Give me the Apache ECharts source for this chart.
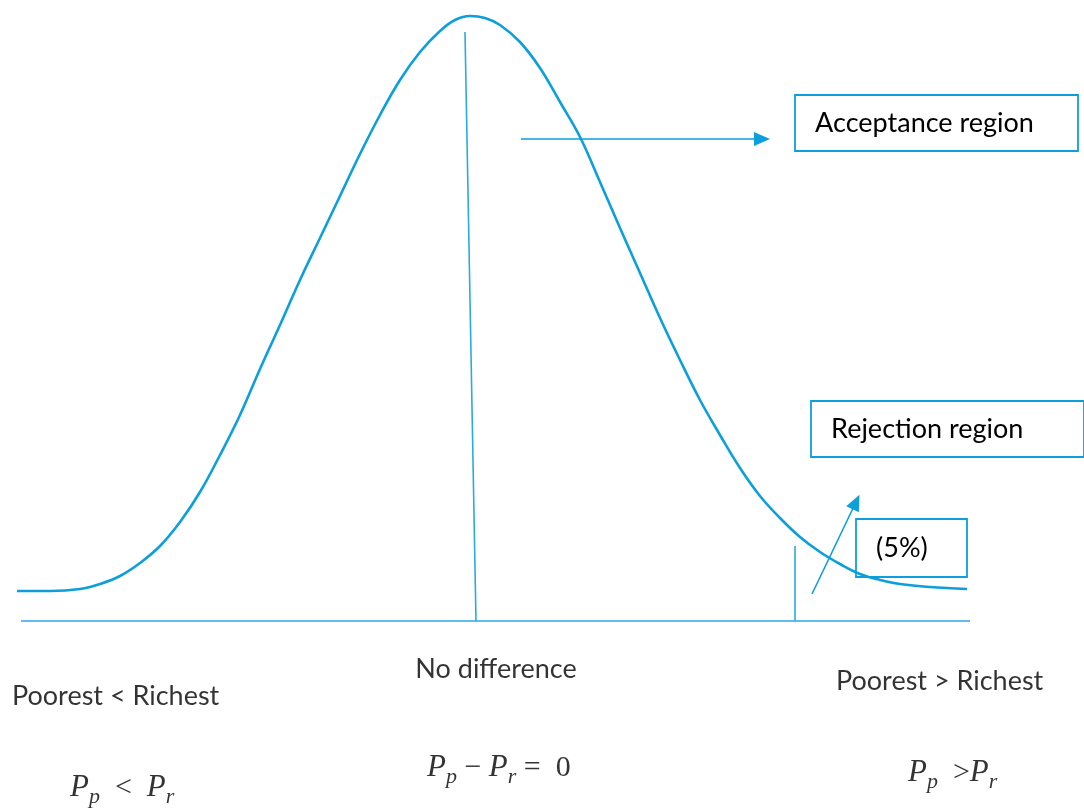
<!DOCTYPE html>
<html>
<head>
<meta charset="utf-8">
<style>
  html, body { margin: 0; padding: 0; background: #fff; }
  #chart { width: 1084px; height: 810px; }
</style>
<script src="https://cdn.jsdelivr.net/npm/echarts@6/dist/echarts.min.js"></script>
</head>
<body>
<div id="chart"></div>
<script>
// curve: x position, height above the base line
var curveX = [17, 50, 80, 100, 120, 140, 160, 180, 200, 220, 240, 260, 280, 300, 320, 340, 360, 380, 400, 420, 440, 455, 470, 485, 500, 520, 540, 560, 580, 600, 620, 640, 660, 680, 700, 720, 740, 760, 780, 800, 820, 840, 860, 880, 900, 930, 967];
var curveH = [30, 30, 32, 37, 45, 58, 75, 99, 129, 166, 206, 252, 296, 341, 383, 425, 467, 506, 541, 569, 590, 601, 605, 603, 596, 579, 553, 519, 484, 439, 393, 348, 303, 261, 221, 186, 153, 125, 103, 84, 69, 57, 47, 41, 37, 34, 32];

// plain lines: [x1, h1, x2, h2]
var baseLine = [21, 0, 970, 0];
var centerLine = [465, 589, 476, 0];
var cutLine = [795, 75, 795, 0];

// arrows: [x1, h1, x2, h2]
var acceptArrow = [521, 482, 762, 482];
var rejectArrow = [812, 27, 856, 119];

// boxes: [x1, h1, x2, h2]
var boxNames = ["Acceptance region", "Rejection region", "(5%)"];
var boxes = [[795, 526, 1078, 470], [811, 220, 1095, 164], [856, 102, 967, 44]];

// texts under the axis
var textNames = ["No difference", "Poorest < Richest", "Poorest > Richest"];
var textPos = [[496, -48], [12, -75], [836, -60]];

var formulaText = [
  "{P|P}{s|p}{o|  <  }{P|P}{s|r}",
  "{P|P}{s|p}{o| − }{P|P}{s|r}{o| =  0}",
  "{P|P}{s|p}{o|  >}{P|P}{s|r}"
];
var formulaPos = [[70, -167], [427, -147], [908, -152]];

var blue = "#0d9fdb";
var thin = "#2aaae0";
var textFont = "Lato, 'Open Sans', sans-serif";

var myChart = echarts.init(document.getElementById("chart"));

function seg(a) {
  return [{ coord: [a[0], a[1]] }, { coord: [a[2], a[3]] }];
}

var mathRich = {
  P: { fontFamily: "'Liberation Serif', serif", fontStyle: "italic", fontSize: 31, color: "#000", lineHeight: 40, verticalAlign: "middle" },
  s: { fontFamily: "'Liberation Serif', serif", fontStyle: "italic", fontSize: 22, color: "#000", lineHeight: 24, verticalAlign: "bottom" },
  o: { fontFamily: "'Liberation Serif', serif", fontSize: 30, color: "#000", lineHeight: 40, verticalAlign: "middle" }
};

var option = {
  animation: false,
  grid: { left: 0, right: 0, top: 0, bottom: 0 },
  xAxis: { type: "value", min: 0, max: 1084, show: false },
  yAxis: { type: "value", min: -189, max: 621, show: false },
  series: [
    {
      name: "curve",
      type: "line",
      data: curveX.map(function (x, i) { return [x, curveH[i]]; }),
      smooth: 0.4,
      symbol: "none",
      lineStyle: { color: blue, width: 2.6 }
    },
    {
      name: "lines",
      type: "line",
      data: [],
      markLine: {
        silent: true,
        symbol: ["none", "none"],
        label: { show: false },
        lineStyle: { color: thin, width: 1.6, type: "solid" },
        data: [seg(baseLine), seg(centerLine), seg(cutLine)]
      }
    },
    {
      name: "arrows",
      type: "line",
      data: [],
      markLine: {
        silent: true,
        symbol: ["none", "triangle"],
        symbolSize: [14, 16],
        label: { show: false },
        lineStyle: { color: blue, width: 1.6, type: "solid" },
        data: [seg(acceptArrow), seg(rejectArrow)]
      }
    },
    {
      name: "boxes",
      type: "line",
      data: [],
      markArea: {
        silent: true,
        itemStyle: { color: "rgba(0,0,0,0)", borderColor: blue, borderWidth: 1.8 },
        label: {
          show: true,
          position: "insideLeft",
          distance: 21,
          color: "#000",
          fontFamily: textFont,
          fontSize: 27
        },
        data: boxes.map(function (b, i) {
          return [{ name: boxNames[i], coord: [b[0], b[1]] }, { coord: [b[2], b[3]] }];
        })
      }
    },
    {
      name: "texts",
      type: "scatter",
      symbolSize: 0,
      silent: true,
      data: textNames.map(function (t, i) {
        return {
          name: t,
          value: textPos[i],
          label: { position: i === 0 ? "inside" : "right", distance: 0 }
        };
      }),
      label: {
        show: true,
        formatter: "{b}",
        color: "#000",
        fontFamily: textFont,
        fontSize: 27
      }
    },
    {
      name: "formulas",
      type: "scatter",
      symbolSize: 0,
      silent: true,
      data: formulaText.map(function (t, i) {
        return { name: t, value: formulaPos[i] };
      }),
      label: {
        show: true,
        position: "right",
        distance: 0,
        formatter: "{b}",
        rich: mathRich
      }
    }
  ]
};

myChart.setOption(option);
</script>
</body>
</html>
